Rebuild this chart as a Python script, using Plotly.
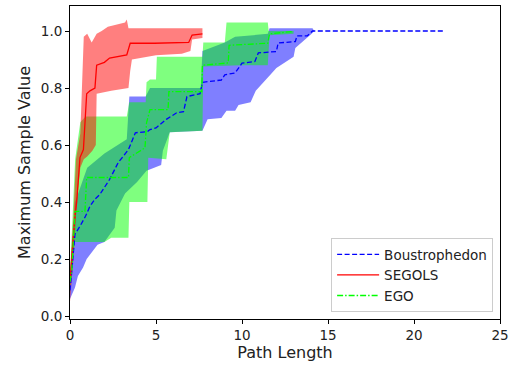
import plotly.graph_objects as go

# ---- Boustrophedon ----
bous_x = [0, .15, .29, .58, .9, 1.16, 1.45, 1.74, 2.0, 2.3, 2.8, 3.1, 3.4, 3.8, 4.5, 4.65, 5.0, 5.6, 6.2, 6.6, 6.8,
          7.56, 7.7, 8.8, 9.0, 9.6, 10.0, 10.75, 10.95, 12.0, 12.1, 13.1, 13.2, 13.8, 14.1, 21.8]
bous_y = [.09, .2, .287, .315, .35, .385, .41, .427, .45, .479, .538, .56, .584, .643, .647, .654, .66, .69, .713, .717, .77,
          .78, .82, .828, .846, .853, .887, .893, .923, .928, .958, .963, .983, .983, 1.0, 1.0]
bous_lo_x = [0, .29, .46, .76, .97, 1.35, 1.6, 2.0, 2.6, 2.7, 3.2, 3.9, 4.45, 5.3, 5.4, 5.8, 7.7, 8.0, 8.8, 9.1, 9.6, 9.8,
             10.5, 10.8, 11.7, 12.0, 13.0, 13.1, 14.05, 14.2, 21.8]
bous_lo_y = [.06, .10, .14, .17, .20, .23, .25, .26, .31, .37, .43, .47, .51, .53, .58, .645, .65, .69, .695, .72, .72, .74,
             .75, .79, .85, .87, .91, .94, .99, 1.0, 1.0]
bous_hi_x = [0, .3, 1.0, 2.0, 3.3, 3.45, 4.4, 4.65, 7.6, 7.7, 9.0, 9.6, 11.5, 11.6, 14.1, 14.2, 21.8]
bous_hi_y = [.15, .40, .52, .57, .62, .77, .77, .80, .80, .93, .96, .98, .99, 1.01, 1.01, 1.0, 1.0]

# ---- SEGOLS ----
seg_x = [0, .06, .17, .29, .39, .58, .78, .97, 1.16, 1.45, 1.55, 1.84, 2.0, 2.3, 2.6, 3.3, 3.5, 4.9, 6.9, 7.1, 7.7]
seg_y = [.12, .17, .25, .35, .40, .556, .584, .78, .79, .80, .88, .888, .89, .905, .909, .916, .957, .957, .96, .986, .99]
seg_lo_x = [0, .2, .4, .6, .8, 1.0, 1.3, 1.5, 1.55, 2.4, 3.4, 3.5, 3.6, 5.0, 6.5, 7.0, 7.1, 7.7]
seg_lo_y = [.05, .2, .4, .52, .55, .56, .58, .6, .78, .79, .80, .86, .90, .915, .92, .93, .97, .975]
seg_hi_x = [0, .2, .35, .6, .8, 1.0, 1.26, 1.55, 1.84, 2.2, 3.2, 3.3, 3.4, 7.7]
seg_hi_y = [.15, .35, .55, .64, .98, .99, .96, .99, 1.0, 1.015, 1.03, 1.04, 1.01, 1.01]

# ---- EGO ----
ego_x = [0, .1, .29, .87, .97, 3.4, 3.45, 4.36, 4.45, 4.65, 5.7, 5.75, 7.66, 7.7, 9.2, 9.25, 11.5, 11.6, 12.9]
ego_y = [.12, .157, .367, .367, .486, .486, .556, .59, .678, .724, .724, .787, .787, .88, .888, .95, .957, .99, .998]
ego_lo_x = [0, .29, 2.0, 2.4, 3.4, 3.45, 4.5, 4.55, 5.6, 5.8, 7.7, 7.75, 9.9, 11.5, 11.6, 13.0]
ego_lo_y = [.08, .26, .26, .275, .275, .40, .40, .555, .55, .645, .65, .875, .88, .88, .985, .99]
ego_hi_x = [0, .15, .3, .6, .9, 3.3, 3.45, 4.4, 4.45, 4.65, 5.0, 5.05, 7.7, 7.75, 9.0, 9.1, 11.5, 11.55, 13.0]
ego_hi_y = [.15, .35, .55, .68, .70, .70, .75, .75, .82, .83, .83, .91, .91, .96, .96, 1.03, 1.03, 1.0, 1.0]

x_ticks = [0, 5, 10, 15, 20, 25]
y_ticks = [0.0, 0.2, 0.4, 0.6, 0.8, 1.0]

fig = go.Figure()


def band(hx, hy, lx, ly, color):
    fig.add_trace(go.Scatter(x=list(hx) + list(reversed(lx)), y=list(hy) + list(reversed(ly)),
                             fill="toself", fillcolor=color, line=dict(width=0), mode="lines",
                             hoverinfo="skip", showlegend=False))


band(bous_hi_x, bous_hi_y, bous_lo_x, bous_lo_y, "rgba(0,0,255,0.5)")
band(ego_hi_x, ego_hi_y, ego_lo_x, ego_lo_y, "rgba(0,255,0,0.5)")
band(seg_hi_x, seg_hi_y, seg_lo_x, seg_lo_y, "rgba(255,0,0,0.5)")

fig.add_trace(go.Scatter(x=bous_x, y=bous_y, mode="lines", name="Boustrophedon",
                         line=dict(color="#0000ff", width=1.3, dash="5px,2.5px")))
fig.add_trace(go.Scatter(x=seg_x, y=seg_y, mode="lines", name="SEGOLS",
                         line=dict(color="#ff0000", width=1.3)))
fig.add_trace(go.Scatter(x=ego_x, y=ego_y, mode="lines", name="EGO",
                         line=dict(color="#00ff00", width=1.3, dash="6px,2px,1.5px,2px")))

font = dict(family="DejaVu Sans", size=13.5, color="#222222")
fig.update_layout(
    width=514, height=369,
    margin=dict(l=70, r=14, t=6, b=50),
    paper_bgcolor="white", plot_bgcolor="white",
    font=font,
    showlegend=True,
    legend=dict(x=0.984, y=0.022, xanchor="right", yanchor="bottom",
                bgcolor="rgba(255,255,255,0.8)", bordercolor="#cccccc", borderwidth=1,
                font=dict(family="DejaVu Sans", size=13.5, color="#222222"),
                tracegroupgap=0, itemwidth=42),
)
fig.update_xaxes(range=[0, 25], tickvals=x_ticks, ticktext=[str(v) for v in x_ticks],
                 showline=True, mirror=True, linecolor="black", linewidth=1,
                 ticks="outside", ticklen=4, tickcolor="black", showgrid=False, zeroline=False,
                 automargin=False, title=dict(text="Path Length", standoff=4))
fig.update_yaxes(range=[-0.0105, 1.0877], tickvals=y_ticks, ticktext=[f"{v:.1f}" for v in y_ticks],
                 showline=True, mirror=True, linecolor="black", linewidth=1,
                 ticks="outside", ticklen=4, tickcolor="black", showgrid=False, zeroline=False,
                 automargin=False, title=dict(text="Maximum Sample Value", standoff=6))

fig.write_html("out.html", config={"displayModeBar": False},
               post_script="document.body.style.margin='0';document.body.style.padding='0';")
